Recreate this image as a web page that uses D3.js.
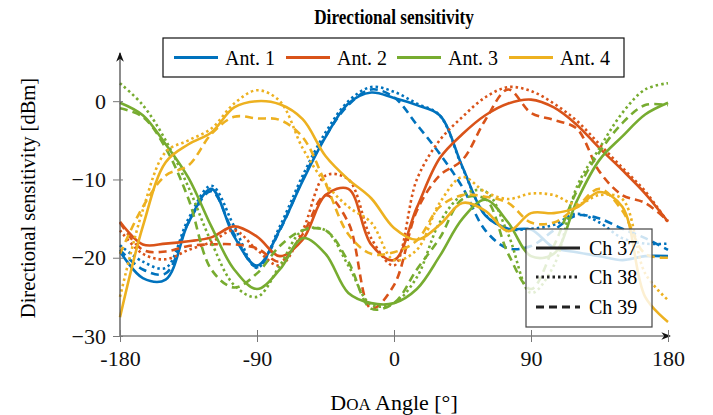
<!DOCTYPE html>
<html>
<head>
<meta charset="utf-8">
<script src="https://cdn.jsdelivr.net/npm/d3@7"></script>
<style>
  body { margin: 0; background: #fff; }
  text { font-family: "Liberation Serif", "Times New Roman", serif; }
</style>
</head>
<body>
<svg id="chart"></svg>
<script>
const width = 713, height = 415;

// DOA angles (deg)
const angles = [-180,-165,-150,-135,-120,-105,-90,-75,-60,-45,-30,-15,0,15,30,45,60,75,90,105,120,135,150,165,180];

// Ant. 1
const ant1_ch37 = [-19.2,-22.6,-22.8,-15.5,-11.2,-17.3,-21,-16.4,-10.2,-4.6,-0.3,1.1,0.4,-0.5,-1.8,-8.4,-14.6,-16.3,-16.4,-18.7,-19.3,-19.8,-20.3,-19.8,-19.8];
const ant1_ch38 = [-18.4,-20.5,-21.3,-15,-10.8,-16,-21.3,-16,-9.5,-4,0,1.8,1.2,-0.3,-1.8,-8.5,-14.5,-16.3,-16.3,-15.8,-14.4,-15.5,-17.5,-18.2,-18.2];
const ant1_ch39 = [-19,-21.5,-22,-15.5,-11.5,-17,-21.2,-16.5,-10,-4.5,-0.5,1.5,0.5,-3,-6.7,-11,-16.5,-18.8,-18.5,-16.5,-14.6,-15,-16.3,-17.5,-19];
// Ant. 2
const ant2_ch37 = [-15.4,-18.3,-18.2,-17.9,-17.4,-16,-17.3,-19.8,-17.7,-12,-11.2,-18.3,-20.3,-13.6,-7.3,-4.2,-1.8,-0.3,0.2,-0.8,-3,-6,-8.8,-11.8,-15.4];
const ant2_ch38 = [-16.5,-19.5,-20.2,-19,-18,-16.5,-19,-21,-16.5,-9.5,-10,-17.5,-21,-10,-5,-2,0.5,1.8,1.3,-0.3,-2.5,-5.5,-8.5,-11.5,-15.5];
const ant2_ch39 = [-15.5,-19,-19.2,-18.5,-18.3,-18.3,-18.8,-20.5,-17,-12,-15.5,-26.5,-23.5,-14,-9.5,-7.5,-2.4,1.5,-1.5,-2.4,-3.5,-9,-12,-13,-15.3];
// Ant. 3
const ant3_ch37 = [-0.2,-1.8,-5.5,-9.8,-16,-21.5,-24,-21.5,-17.5,-19.5,-24.5,-25.8,-25.8,-24,-19.8,-15,-12.6,-15.5,-19.8,-19.5,-12.8,-7.5,-4.5,-1.7,-0.2];
const ant3_ch38 = [2.3,-0.5,-5,-11,-18,-23.5,-25,-21,-16.5,-16.5,-21,-26,-25.8,-22.5,-15.5,-12,-11.5,-17,-24.5,-21,-11,-6,-1.5,1.5,2.3];
const ant3_ch39 = [-0.9,-2,-6,-12.5,-21.5,-23.8,-22,-18.5,-16.5,-16.5,-20.5,-26.5,-25.8,-21.5,-17.5,-12.5,-12.5,-19.5,-24,-18.5,-11.5,-6.5,-2.8,-0.5,-0.5];
// Ant. 4
const ant4_ch37 = [-27.6,-16,-7.8,-5.5,-4,-0.8,0,-0.4,-2.3,-7,-10,-12.4,-16.2,-17.7,-15.8,-13,-14,-16.6,-14.3,-14.3,-13.6,-11.6,-13.5,-25,-28.2];
const ant4_ch38 = [-25,-13.9,-6.5,-5,-3.5,-0.3,1.4,0,-6,-10.5,-13.5,-15.5,-20.3,-19,-13,-9.7,-11.6,-12.5,-11.8,-12,-13.2,-12,-12.5,-22,-25.4];
const ant4_ch39 = [-19.5,-13.5,-9.5,-8.2,-4.2,-2,-2.2,-2.4,-4.6,-10.5,-17,-19.5,-19.3,-17.8,-13.5,-12,-12.2,-13,-15.5,-15.5,-13.5,-11.2,-14,-19.5,-20];

const antNames = ['Ant. 1', 'Ant. 2', 'Ant. 3', 'Ant. 4'];
const chNames = ['Ch 37', 'Ch 38', 'Ch 39'];
const xTicks = [-180, -90, 0, 90, 180];
const yTicks = [-30, -20, -10, 0];

const colors = ['#0072BD', '#D95319', '#77AC30', '#EDB120'];
const dashes = [null, '2.5,3', '8,5'];
const series = [
  [ant1_ch37, ant1_ch38, ant1_ch39],
  [ant2_ch37, ant2_ch38, ant2_ch39],
  [ant3_ch37, ant3_ch38, ant3_ch39],
  [ant4_ch37, ant4_ch38, ant4_ch39]
];

const svg = d3.select('#chart').attr('width', width).attr('height', height);

const x = d3.scaleLinear().domain([-180, 180]).range([120, 668]);
const y = d3.scaleLinear().domain([-30, 5.9]).range([336, 55]);

// curves
const line = d3.line()
  .x((d, i) => x(angles[i]))
  .y(d => y(d))
  .curve(d3.curveCatmullRom.alpha(0.5));

const plot = svg.append('g');
series.forEach((chs, a) => {
  chs.forEach((vals, c) => {
    plot.append('path')
      .attr('d', line(vals))
      .attr('fill', 'none')
      .attr('stroke', colors[a])
      .attr('stroke-width', 2.6)
      .attr('stroke-dasharray', dashes[c]);
  });
});

// axes
const axisColor = '#404040';
svg.append('defs').append('marker')
  .attr('id', 'arrow').attr('viewBox', '0 0 10 10')
  .attr('refX', 9).attr('refY', 5)
  .attr('markerWidth', 8).attr('markerHeight', 8)
  .attr('orient', 'auto')
  .append('path').attr('d', 'M0,1 L10,5 L0,9 L3,5 Z').attr('fill', '#111');

svg.append('line').attr('x1', 120).attr('x2', 120).attr('y1', 336).attr('y2', 53)
  .attr('stroke', axisColor).attr('stroke-width', 1.2).attr('marker-end', 'url(#arrow)');
svg.append('line').attr('x1', 120).attr('x2', 670).attr('y1', 336).attr('y2', 336)
  .attr('stroke', axisColor).attr('stroke-width', 1.2).attr('marker-end', 'url(#arrow)');

const xAxis = svg.append('g').attr('transform', 'translate(0,336)')
  .call(d3.axisBottom(x).tickValues(xTicks).tickSize(6).tickFormat(d => String(d)));
xAxis.select('.domain').remove();
xAxis.selectAll('.tick line').attr('y1', -6).attr('y2', 6).attr('stroke', '#777');
xAxis.selectAll('.tick text').attr('y', 14).attr('font-size', 22)
  .attr('font-family', 'Liberation Serif').attr('fill', '#111');

const yAxis = svg.append('g').attr('transform', 'translate(120,0)')
  .call(d3.axisLeft(y).tickValues(yTicks).tickSize(7).tickFormat(d => d < 0 ? '\u2212' + Math.abs(d) : String(d)));
yAxis.select('.domain').remove();
yAxis.selectAll('.tick line').attr('x1', -7).attr('x2', 3).attr('stroke', '#777');
yAxis.selectAll('.tick text').attr('x', -14).attr('font-size', 22)
  .attr('font-family', 'Liberation Serif').attr('fill', '#111');

// title & labels (title slightly condensed like the original)
svg.append('text').attr('transform', 'translate(394,24) scale(0.86,1)').attr('text-anchor', 'middle')
  .attr('font-size', 20).attr('font-weight', 'bold').text('Directional sensitivity');

const xl = svg.append('text').attr('x', 394).attr('y', 410).attr('text-anchor', 'middle')
  .attr('font-size', 22);
xl.append('tspan').text('D');
xl.append('tspan').attr('font-size', 17).text('OA');
xl.append('tspan').text(' Angle [\u00B0]');

svg.append('text').attr('transform', 'translate(35,198) rotate(-90)')
  .attr('text-anchor', 'middle').attr('font-size', 20.5)
  .text('Directional sensitivity [dBm]');

// antenna legend
const leg = svg.append('g');
leg.append('rect').attr('x', 163).attr('y', 38).attr('width', 461).attr('height', 39)
  .attr('fill', '#fff').attr('stroke', '#111').attr('stroke-width', 1.2);
const legX = [174, 286, 397, 509];
antNames.forEach((n, i) => {
  leg.append('line').attr('x1', legX[i]).attr('x2', legX[i] + 44)
    .attr('y1', 57.5).attr('y2', 57.5).attr('stroke', colors[i]).attr('stroke-width', 3);
  leg.append('text').attr('x', legX[i] + 51).attr('y', 64.5).attr('font-size', 20).text(n);
});

// channel legend
const cl = svg.append('g');
cl.append('rect').attr('x', 526).attr('y', 229).attr('width', 126).attr('height', 98)
  .attr('fill', '#fff').attr('fill-opacity', 0.8).attr('stroke', '#444').attr('stroke-width', 1.2);
const rowsY = [248, 277, 307];
chNames.forEach((n, i) => {
  cl.append('line').attr('x1', 536).attr('x2', 580).attr('y1', rowsY[i]).attr('y2', rowsY[i])
    .attr('stroke', '#222').attr('stroke-width', 3).attr('stroke-dasharray', dashes[i]);
  cl.append('text').attr('x', 589).attr('y', rowsY[i] + 7).attr('font-size', 20).text(n);
});
</script>
</body>
</html>
